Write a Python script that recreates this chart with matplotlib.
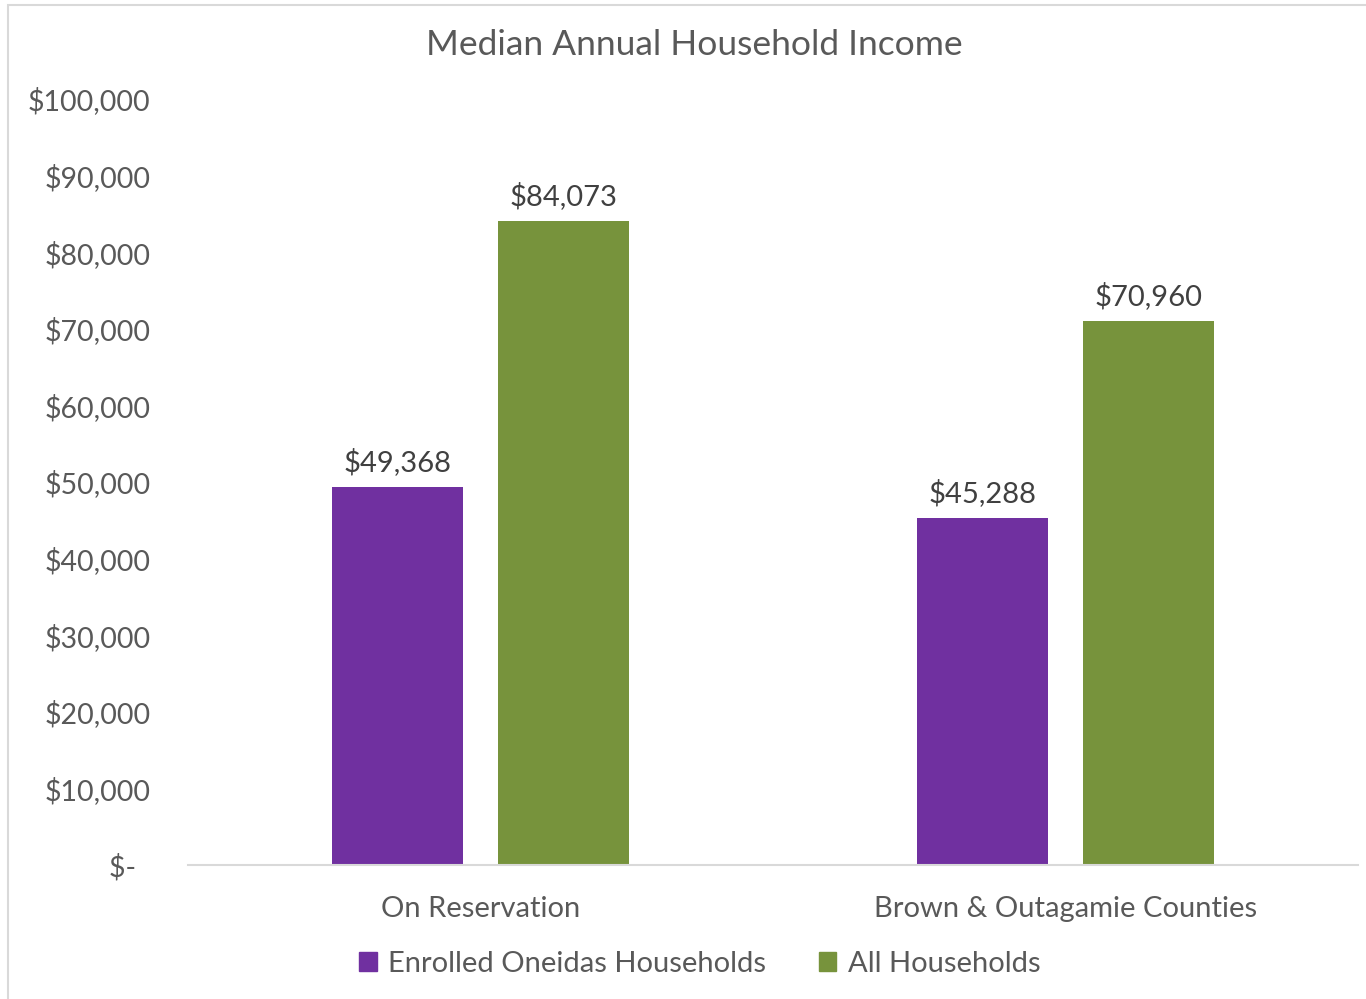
import matplotlib.pyplot as plt
from matplotlib.patches import Rectangle, Patch

plt.rcParams["font.family"] = ["Lato", "DejaVu Sans"]

categories = ["On Reservation", "Brown & Outagamie Counties"]
series_names = ["Enrolled Oneidas Households", "All Households"]
oneidas = [49368, 45288]
all_households = [84073, 70960]
y_ticks = [0, 10000, 20000, 30000, 40000, 50000, 60000, 70000, 80000, 90000, 100000]

purple = "#7030A0"
green = "#77933C"
text_col = "#595959"

fig = plt.figure(figsize=(13.66, 9.99), dpi=100)
ax = fig.add_axes([188 / 1366, 1 - 865 / 999, 1170 / 1366, (865 - 99) / 999])

# outer chart frame (only left/top visible in the reference)
fig.patches.append(Rectangle((8 / 1366, -0.1), 1.2, 1 - 5 / 999 + 0.1,
                             transform=fig.transFigure, fill=False,
                             edgecolor="#D9D9D9", linewidth=1.5))

w = 0.224
off = 0.142
x = list(range(len(categories)))
b1 = ax.bar([i - off for i in x], oneidas, width=w, color=purple)
b2 = ax.bar([i + off for i in x], all_households, width=w, color=green)

for bars, vals in ((b1, oneidas), (b2, all_households)):
    for r, v in zip(bars, vals):
        ax.annotate(f"${v:,}", (r.get_x() + r.get_width() / 2, v),
                    xytext=(0, 8), textcoords="offset points",
                    ha="center", va="bottom", fontsize=21, color="#404040")

ax.set_xlim(-0.5, 1.5)
ax.set_ylim(0, 100000)
ax.set_yticks(y_ticks)
ax.set_yticklabels([f"${t:,}" if t else "$-  " for t in y_ticks])
ax.set_xticks(x)
ax.set_xticklabels(categories)
ax.tick_params(axis="y", length=0, pad=27, labelsize=20.5, labelcolor=text_col)
ax.tick_params(axis="x", length=0, pad=22, labelsize=21, labelcolor=text_col)

for s in ("top", "right", "left"):
    ax.spines[s].set_visible(False)
ax.spines["bottom"].set_color("#D9D9D9")
ax.spines["bottom"].set_linewidth(1.5)

fig.text(694 / 1366, 1 - 45 / 999, "Median Annual Household Income",
         ha="center", va="center", fontsize=25.5, color=text_col)

handles = [Patch(color=purple), Patch(color=green)]
fig.legend(handles, series_names, loc="center", bbox_to_anchor=(700 / 1366, 1 - 964 / 999),
           ncol=2, frameon=False, fontsize=21, labelcolor=text_col,
           handlelength=0.6, handleheight=0.6, handletextpad=0.4, columnspacing=1.8)

fig.savefig("out.png", dpi=100)
